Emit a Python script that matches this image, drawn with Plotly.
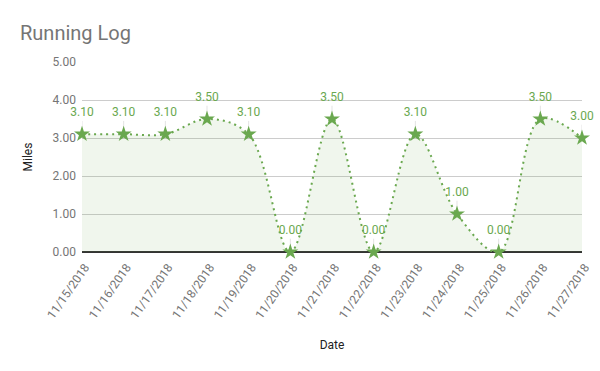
import plotly.graph_objects as go

dates = ["11/15/2018", "11/16/2018", "11/17/2018", "11/18/2018", "11/19/2018",
         "11/20/2018", "11/21/2018", "11/22/2018", "11/23/2018", "11/24/2018",
         "11/25/2018", "11/26/2018", "11/27/2018"]
miles = [3.10, 3.10, 3.10, 3.50, 3.10, 0.00, 3.50, 0.00, 3.10, 1.00, 0.00, 3.50, 3.00]
y_ticks = [0, 1, 2, 3, 4, 5]

green = "#6aa84f"
font = "Roboto, Arial, sans-serif"

fig = go.Figure()
fig.add_trace(go.Scatter(
    x=dates, y=miles, mode="lines+markers",
    line=dict(color=green, width=2, dash="2px,4px", shape="spline", smoothing=1.0),
    fill="tozeroy", fillcolor="rgba(106,168,79,0.10)",
    marker=dict(symbol="star", size=12, color=green),
    error_y=dict(type="data", symmetric=False, array=[0.35] * len(miles),
                 arrayminus=[0] * len(miles), color="#e3e3e3", thickness=1, width=0),
    cliponaxis=False, hoverinfo="skip",
))
fig.add_trace(go.Scatter(
    x=dates, y=miles, mode="markers+text",
    text=[f"{v:.2f}" for v in miles], textposition="top center",
    textfont=dict(color=green, size=12, family=font),
    marker=dict(size=22, color="rgba(0,0,0,0)"),
    cliponaxis=False, hoverinfo="skip",
))

fig.update_layout(
    width=600, height=371,
    margin=dict(l=82, r=18, t=62, b=119, autoexpand=False),
    paper_bgcolor="white", plot_bgcolor="white",
    showlegend=False,
    title=dict(text="Running Log", xref="container", yref="container",
               x=20 / 600, xanchor="left", y=1 - 33 / 371, yanchor="middle",
               font=dict(family=font, size=20, color="#757575")),
    font=dict(family=font),
)
fig.update_xaxes(
    type="category", range=[0, len(dates) - 1], showgrid=False, automargin=False,
    tickangle=-55, tickfont=dict(size=12, color="#757575"),
    ticklabelstandoff=5, ticklabelshift=3,
    title=dict(text="Date", font=dict(size=12, color="#222222"), standoff=20),
    showline=False, ticks="",
)
fig.update_yaxes(
    range=[0, 5], tickvals=y_ticks, tickformat=".2f", automargin=False,
    gridcolor="#cccccc", gridwidth=1,
    zeroline=True, zerolinecolor="#333333", zerolinewidth=2,
    tickfont=dict(size=12, color="#757575"), ticklabelstandoff=5,
    title=dict(text="Miles", font=dict(size=12, color="#222222"), standoff=17),
    ticks="",
)

fig.write_html("out.html", config={"displayModeBar": False},
               post_script="document.body.style.margin='0';")
